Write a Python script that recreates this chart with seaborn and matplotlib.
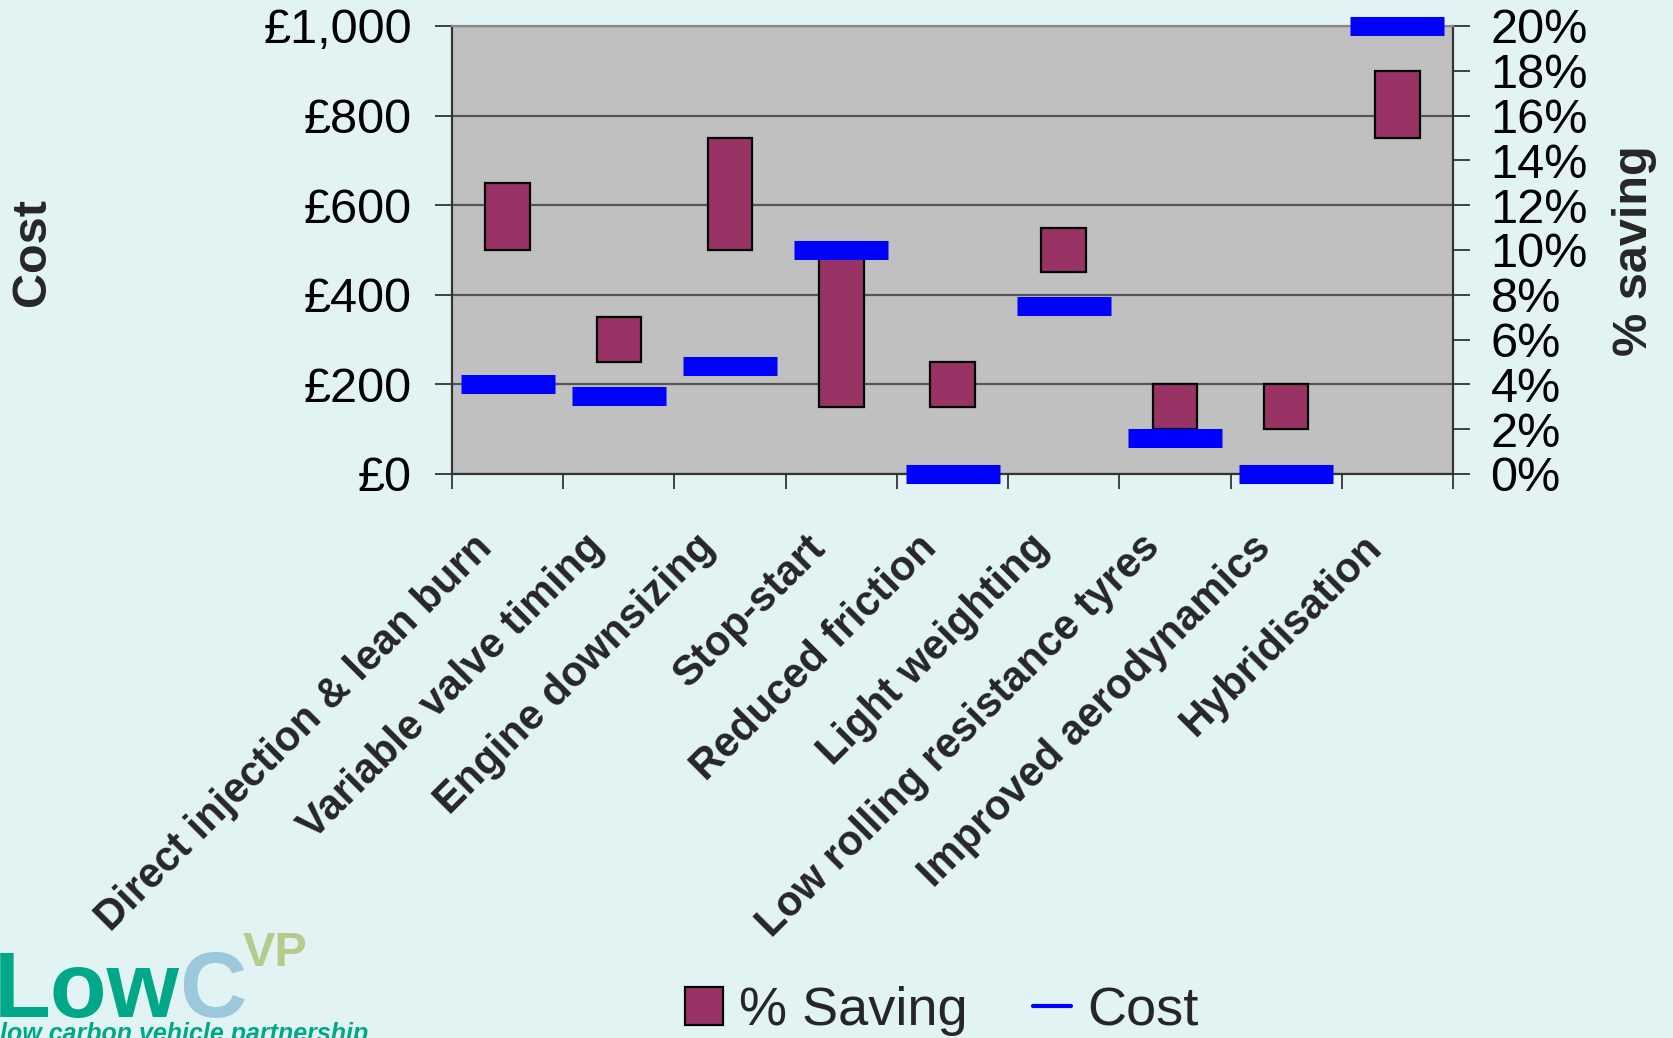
import numpy as np
import matplotlib
matplotlib.use("Agg")
import matplotlib.pyplot as plt
from matplotlib import font_manager
from matplotlib.ticker import FixedLocator, FixedFormatter, NullFormatter, StrMethodFormatter
from matplotlib.transforms import ScaledTranslation
from matplotlib.patches import Patch
from matplotlib.lines import Line2D
import seaborn as sns

# values
categories = [
    "Direct injection & lean burn",
    "Variable valve timing",
    "Engine downsizing",
    "Stop-start",
    "Reduced friction",
    "Light weighting",
    "Low rolling resistance tyres",
    "Improved aerodynamics",
    "Hybridisation",
]
saving_low = [10, 5, 10, 3, 3, 9, 2, 2, 15]      # % saving, lower end
saving_high = [13, 7, 15, 10, 5, 11, 4, 4, 18]   # % saving, upper end
cost = [200, 175, 240, 500, 0, 375, 80, 0, 1000]  # £

cost_ticks = [0, 200, 400, 600, 800, 1000]
saving_major = [0, 4, 8, 12, 16, 20]
saving_minor = [2, 6, 10, 14, 18]

bg = "#E2F3F3"
plum = "#993366"
blue = "#0000FF"

sns.set_theme(style="white")
plt.rcParams["font.family"] = ["Liberation Sans", "DejaVu Sans"]

fig = plt.figure(figsize=(16.73, 10.38), dpi=100, facecolor=bg)
ax = fig.add_axes([0.2702, 0.5434, 0.5983, 0.4316])
ax.set_facecolor("#C0C0C0")

heights = [h - l for h, l in zip(saving_high, saving_low)]
sns.barplot(x=categories, y=heights, bottom=saving_low, color=plum, saturation=1,
            edgecolor="black", linewidth=1.6, width=0.4, ax=ax, zorder=3)

ax.set_xlim(-0.5, len(categories) - 0.5)
ax.set_ylim(0, 20)
ax.set_xlabel("")
ax.set_ylabel("")

# cost on the twin axis, drawn above the bars
ax2 = ax.twinx()
ax2.plot(np.arange(len(cost)), cost, ls="none", marker="_", ms=68, mew=13.7,
         color=blue, clip_on=False, zorder=5)
ax2.set_ylim(0, 1000)
ax2.yaxis.tick_left()
ax2.yaxis.set_major_locator(FixedLocator(cost_ticks))
ax2.yaxis.set_major_formatter(StrMethodFormatter("£{x:,.0f}"))
ax2.tick_params(axis="y", which="major", left=True, right=False, direction="out",
                length=12, width=1.3, color="#333333", labelsize=35, pad=17, labelcolor="black")

# % saving axis on the right
ax.yaxis.tick_right()
ax.yaxis.set_major_locator(FixedLocator(saving_major))
ax.yaxis.set_minor_locator(FixedLocator(saving_minor))
pct = StrMethodFormatter("{x:.0f}%")
ax.yaxis.set_major_formatter(pct)
ax.yaxis.set_minor_formatter(pct)
ax.tick_params(axis="y", which="both", right=True, left=False, direction="out",
               length=12, width=1.3, color="#333333", labelsize=35, pad=15, labelcolor="black")
ax.grid(True, axis="y", which="major", color="#555555", lw=1.6)
ax.grid(False, axis="x")
ax.set_axisbelow(True)

# category ticks between bars, labels under bars
ax.xaxis.set_major_locator(FixedLocator(np.arange(-0.5, len(categories))))
ax.xaxis.set_major_formatter(NullFormatter())
ax.xaxis.set_minor_locator(FixedLocator(np.arange(len(categories))))
ax.xaxis.set_minor_formatter(FixedFormatter(categories))
ax.tick_params(axis="x", which="major", bottom=True, direction="out", length=11,
               width=1.3, color="#333333")
ax.tick_params(axis="x", which="minor", bottom=True, length=0, labelsize=30, pad=48.5)
shift = ScaledTranslation(-0.215, 0, fig.dpi_scale_trans)
for lbl in ax.get_xticklabels(minor=True):
    lbl.set_rotation(45)
    lbl.set_ha("right")
    lbl.set_va("center")
    lbl.set_rotation_mode("anchor")
    lbl.set_fontweight("bold")
    lbl.set_transform(lbl.get_transform() + shift)

for a in (ax, ax2):
    for side in ("left", "right", "bottom"):
        a.spines[side].set_color("#333333")
        a.spines[side].set_linewidth(1.5)
    a.spines["top"].set_color("#888888")
    a.spines["top"].set_linewidth(1.5)

fig.text(0.0197, 0.757, "Cost", rotation=90, fontsize=35, fontweight="bold",
         ha="center", va="center")
fig.text(0.977, 0.759, "% saving", rotation=90, fontsize=35, fontweight="bold",
         ha="center", va="center")

handles = [Patch(facecolor=plum, edgecolor="black", lw=1.6),
           Line2D([], [], color=blue, lw=3)]
fig.legend(handles, ["% Saving", "Cost"], loc="center", bbox_to_anchor=(0.563, 0.026),
           ncol=2, frameon=False, fontsize=39, handlelength=0.7, handleheight=0.7,
           handletextpad=0.3, columnspacing=1.2)

# LowCVP logo, bottom left
installed = {f.name for f in font_manager.fontManager.ttflist}
if "Liberation Sans Narrow" in installed:
    logo_family, logo_size = "Liberation Sans Narrow", 76
else:
    logo_family, logo_size = "Liberation Sans", 67
low = fig.text(-0.004, 0.020, "Low", fontsize=logo_size, fontweight="bold",
               color="#00A887", family=logo_family, ha="left", va="baseline")
c_txt = ax.annotate("C", xy=(1, 0), xycoords=low, ha="left", va="bottom",
                    fontsize=logo_size, fontweight="bold", color="#9CC8DC", family=logo_family)
ax.annotate("VP", xy=(1, 1), xycoords=c_txt, xytext=(-3, 14), textcoords="offset points",
            ha="left", va="top", fontsize=35, fontweight="bold", color="#B5CB8B",
            family=logo_family)
fig.text(0.0, -0.003, "low carbon vehicle partnership", fontsize=18, style="italic",
         fontweight="bold", color="#00A887", ha="left", va="baseline")

fig.savefig("out.png", dpi=100, facecolor=bg)
